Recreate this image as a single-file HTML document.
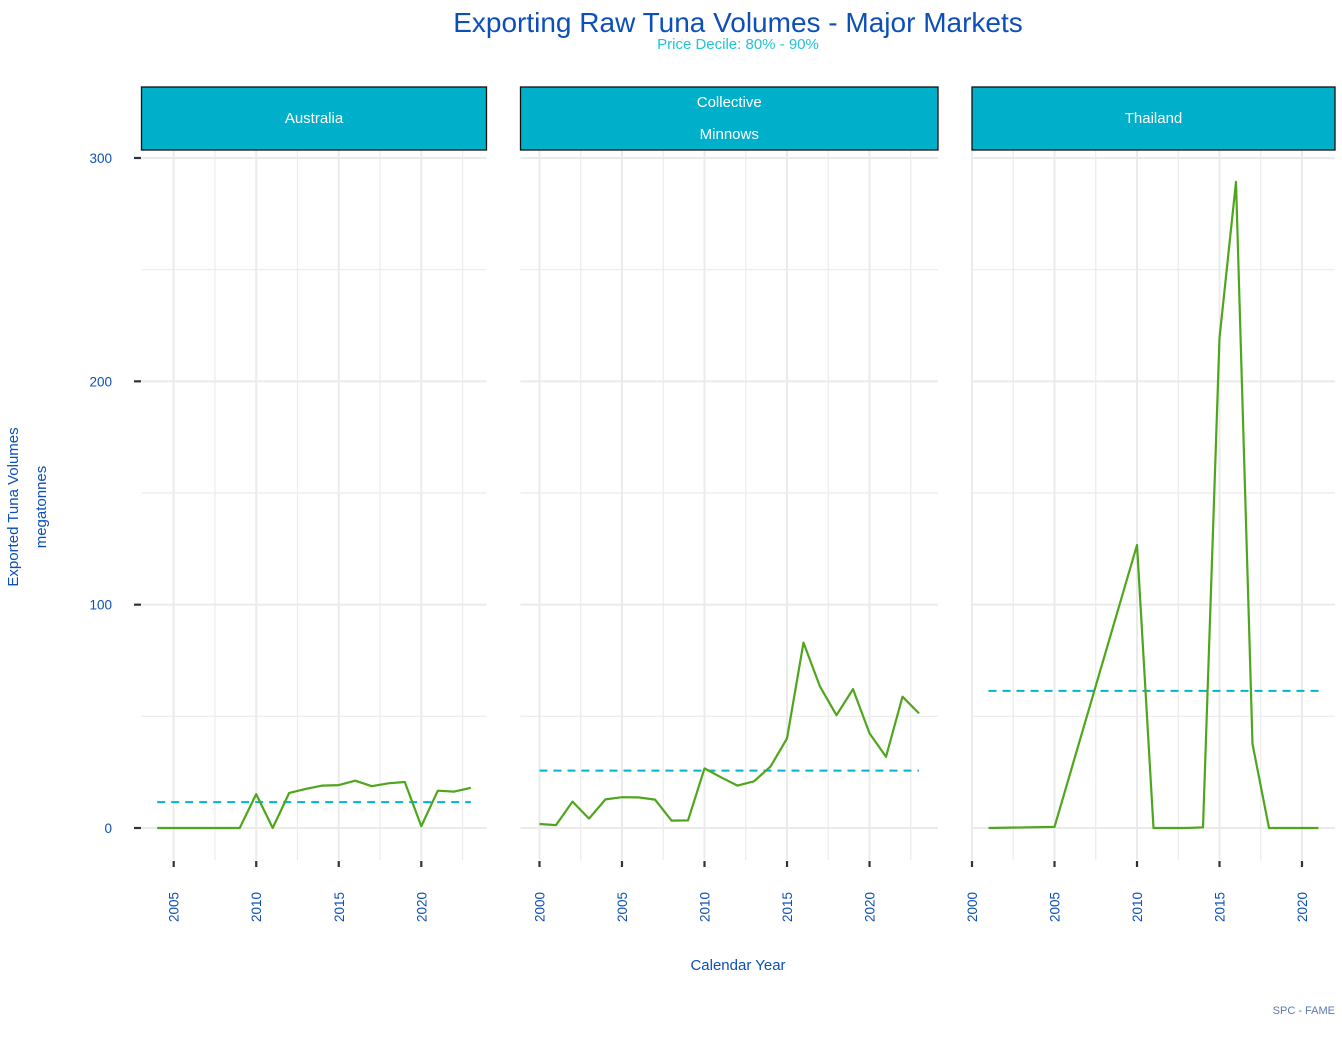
<!DOCTYPE html>
<html><head><meta charset="utf-8">
<style>
html,body{margin:0;padding:0;background:#fff;}
svg{display:block;font-family:"Liberation Sans",sans-serif;}
</style></head>
<body>
<svg id="chart" width="1342" height="1047" viewBox="0 0 1342 1047">
<text x="738" y="32" text-anchor="middle" font-size="28" fill="#0d4fb8" font-weight="300">Exporting Raw Tuna Volumes - Major Markets</text>
<text x="738" y="49" text-anchor="middle" font-size="15" fill="#22c3d6">Price Decile: 80% - 90%</text>
<text transform="translate(18,507) rotate(-90)" text-anchor="middle" font-size="15" fill="#0d4fb8">Exported Tuna Volumes</text>
<text transform="translate(46,507) rotate(-90)" text-anchor="middle" font-size="15" fill="#0d4fb8">megatonnes</text>
<text x="738" y="970" text-anchor="middle" font-size="15" fill="#0d4fb8">Calendar Year</text>
<text x="1335" y="1014" text-anchor="end" font-size="11" fill="#5a78b8">SPC - FAME</text>
<g id="panels"></g>
</svg>
<script>
const yTicks = [0, 100, 200, 300];
const panelNames = ["Australia", "Collective Minnows", "Thailand"];
const ausYears = [2004,2005,2006,2007,2008,2009,2010,2011,2012,2013,2014,2015,2016,2017,2018,2019,2020,2021,2022,2023];
const ausValues = [0,0,0,0,0,0,15.2,0,15.7,17.5,19,19.2,21.2,18.7,20,20.6,0.8,16.7,16.3,18];
const ausMean = 11.6;
const colYears = [2000,2001,2002,2003,2004,2005,2006,2007,2008,2009,2010,2011,2012,2013,2014,2015,2016,2017,2018,2019,2020,2021,2022,2023];
const colValues = [1.8,1.3,11.8,4.2,12.8,13.8,13.7,12.7,3.3,3.4,26.7,22.7,19,20.9,27.5,40.1,83,63.3,50.5,62.2,42.4,31.9,58.8,51.3];
const colMean = 25.7;
const thaYears = [2001,2005,2010,2011,2012,2013,2014,2015,2016,2017,2018,2019,2020,2021];
const thaValues = [0,0.5,126.7,0,0,0,0.3,219.4,289.3,37.6,0,0,0,0];
const thaMean = 61.4;
const ausXTicks = [2005,2010,2015,2020];
const colXTicks = [2000,2005,2010,2015,2020];
const thaXTicks = [2000,2005,2010,2015,2020];

const NS = "http://www.w3.org/2000/svg";
const g = document.getElementById("panels");
function mk(tag, attrs, parent){ const e=document.createElementNS(NS,tag); for(const k in attrs) e.setAttribute(k,attrs[k]); (parent||g).appendChild(e); return e; }
const yScale = v => 828 - v*(670/300);

const panels = [
  {name:"Australia", left:141.5, right:486.5, years:ausYears, values:ausValues, mean:ausMean, ticks:ausXTicks, id:"australia"},
  {name:"Collective Minnows", left:520.5, right:938, years:colYears, values:colValues, mean:colMean, ticks:colXTicks, id:"collective-minnows"},
  {name:"Thailand", left:972, right:1335, years:thaYears, values:thaValues, mean:thaMean, ticks:thaXTicks, id:"thailand"}
];

panels.forEach((p, i) => {
  const minY = Math.min(...p.years), maxY = Math.max(...p.years);
  const span = maxY - minY, lo = minY - span*0.05, hi = maxY + span*0.05;
  const xs = v => p.left + (v-lo)/(hi-lo)*(p.right-p.left);
  const pg = mk("g", {});
  
  
  for (let v=0; v<=300; v+=50) {
    const l = mk("line",{x1:p.left,x2:p.right,y1:yScale(v),y2:yScale(v),stroke:"#ebebeb","stroke-width":v%100===0?2:1.2},pg);
    
    
  }
  for (let t = Math.ceil(lo/2.5)*2.5; t <= hi; t += 2.5) {
    const major = (t % 5 === 0);
    const l = mk("line",{x1:xs(t),x2:xs(t),y1:150,y2:860,stroke:"#ebebeb","stroke-width":major?2:1.2},pg);
    
    
  }
  p.ticks.forEach(t => {
    const tk = mk("line",{x1:xs(t),x2:xs(t),y1:861,y2:867,stroke:"#333","stroke-width":2.2},pg);
    
    
    const tx = mk("text",{transform:`translate(${xs(t)+5},922) rotate(-90)`,"font-size":13.5,fill:"#0d4fb8"},pg);
    tx.textContent = t;
    
    
  });
  if (i===0) {
    yTicks.forEach(v => {
      const tk = mk("line",{x1:134,x2:141,y1:yScale(v),y2:yScale(v),stroke:"#333","stroke-width":2.2},pg);
      
      
      const tx = mk("text",{x:112,y:yScale(v)+5,"text-anchor":"end","font-size":13.5,fill:"#0d4fb8"},pg);
      tx.textContent = v;
      
      
    });
  }
  const st = mk("rect",{x:p.left,y:87,width:p.right-p.left,height:63,fill:"#00b0cb",stroke:"#111","stroke-width":1.3},pg);
  
  
  const cx = (p.left+p.right)/2;
  if (p.name === "Collective Minnows") {
    [["Collective",107],["Minnows",139]].forEach(([s,y]) => {
      const t = mk("text",{x:cx,y:y,"text-anchor":"middle","font-size":15,fill:"#fff"},pg);
      t.textContent = s;
      
      
    });
  } else {
    const t = mk("text",{x:cx,y:123,"text-anchor":"middle","font-size":15,fill:"#fff"},pg);
    t.textContent = p.name;
    
    
  }
  const ml = mk("line",{x1:xs(minY),x2:xs(maxY),y1:yScale(p.mean),y2:yScale(p.mean),stroke:"#00b4d0","stroke-width":2,"stroke-dasharray":"8,6"},pg);
  
  
  const pts = p.years.map((y,k) => xs(y).toFixed(1)+","+yScale(p.values[k]).toFixed(1)).join(" ");
  const pl = mk("polyline",{points:pts,fill:"none",stroke:"#4fa61c","stroke-width":2.2,"stroke-linejoin":"round"},pg);
  
  
});
</script>
</body></html>
